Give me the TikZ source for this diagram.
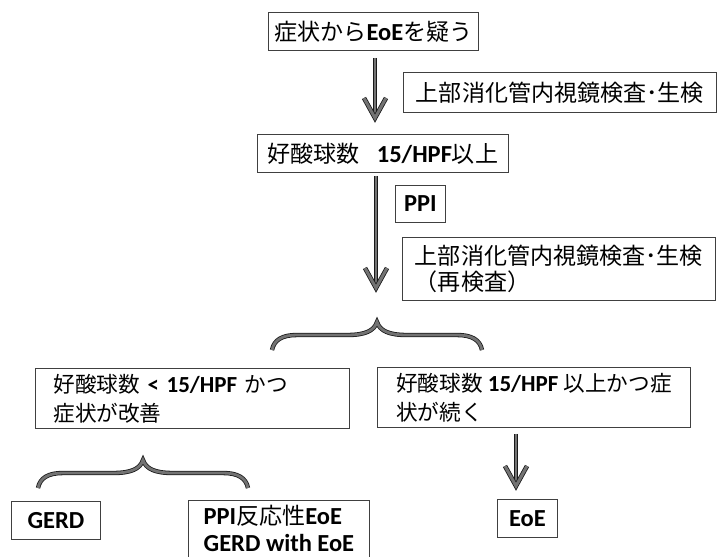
\documentclass[tikz,border=0pt]{standalone}
\usepackage{fontspec}
\setmainfont{Carlito}
\newfontfamily\jpfont[Scale=0.94]{Noto Sans CJK JP}
\newcommand\jt[1]{{\jpfont\mdseries #1}}
\newcommand\vhd[1]{\draw[vhead] ([shift={(-11,20)}]#1) -- (#1) -- ([shift={(11,20)}]#1);}
\begin{document}
\begin{tikzpicture}[x=1pt,y=1pt,
  box/.style={draw=black!75, line width=0.8pt, inner sep=0pt, anchor=north west, align=left,
    font=\bfseries\fontsize{24.5}{25.5}\selectfont},
  frame/.style={draw=black!75, line width=0.8pt},
  midfont/.style={font=\bfseries\fontsize{23}{29}\selectfont},
  shaft/.style={draw=black!90, line width=0.8pt, double=black!55, double distance=2.2pt},
  vhead/.style={draw=black!90, line width=0.8pt, double=black!55, double distance=3pt, line join=miter},
  bracestyle/.style={draw=black!90, line width=0.8pt, double=black!55, double distance=2.8pt},
  curly/.pic={\draw[bracestyle] (-105,-28) .. controls (-103,-18) and (-95,-13) .. (-80,-13)
      -- (-30,-13) .. controls (-12,-13) and (-3,-9) .. (0,0)
      .. controls (3,-9) and (12,-13) .. (30,-13) -- (80,-13)
      .. controls (95,-13) and (103,-18) .. (105,-28);}
]
\useasboundingbox (0,0) rectangle (718,-557);
\fill[white] (0,0) rectangle (718,-557);
\clip (0,0) rectangle (718,-557);

\node[box, minimum width=210pt, minimum height=38pt] (b1) at (268,-12) {\jt{症状から}EoE\jt{を疑う}};
\node[box, minimum width=313pt, minimum height=40pt] (b2) at (403,-72) {\jt{上部消化管内視鏡検査･生検}};
\node[box, minimum width=251pt, minimum height=38pt] (b3) at (257,-134) {\jt{好酸球数}\hspace{17pt}15/HPF\jt{以上}};
\node[box, minimum width=50pt, minimum height=37pt] (ppi) at (395,-185) {PPI};
\node[box, minimum width=313pt, minimum height=63pt] (b5) at (402,-237) {\jt{上部消化管内視鏡検査･生検}\\\jt{（再検査）}};
\node[box, midfont, text width=278pt, inner xsep=18pt, minimum height=60pt] (b6) at (35,-368) {\jt{好酸球数} < 15/HPF \jt{かつ}\\\jt{症状が改善}};
\node[box, midfont, minimum width=313pt, minimum height=60pt] (b7) at (377,-367) {\jt{好酸球数} 15/HPF \jt{以上かつ症}\\\jt{状が続く}};
\node[box, minimum width=89pt, minimum height=38pt] (gerd) at (11,-501) {GERD};
\node[box, draw=none, minimum width=181pt, minimum height=56pt, font=\bfseries\fontsize{24.5}{27}\selectfont] (pr) at (188,-500) {PPI\jt{反応性}EoE\\GERD with EoE};
\draw[frame] ([yshift=-10pt]pr.south west) |- (pr.north east) -- ([yshift=-10pt]pr.south east);
\node[box, minimum width=60pt, minimum height=38pt] (eoe) at (497,-499) {EoE};

\coordinate (t1) at (375,-118);
\draw[shaft, shorten <=7pt, shorten >=2pt] (b1.south -| t1) -- (t1);
\vhd{t1}
\coordinate (t2) at (376,-288);
\draw[shaft, shorten <=3pt, shorten >=2pt] (b3.south -| t2) -- (t2);
\vhd{t2}
\coordinate (t3) at (516,-486);
\draw[shaft, shorten <=6pt, shorten >=2pt] (b7.south -| t3) -- (t3);
\vhd{t3}

\pic at (377,-322) {curly};
\pic at (143,-460) {curly};
\end{tikzpicture}
\end{document}
